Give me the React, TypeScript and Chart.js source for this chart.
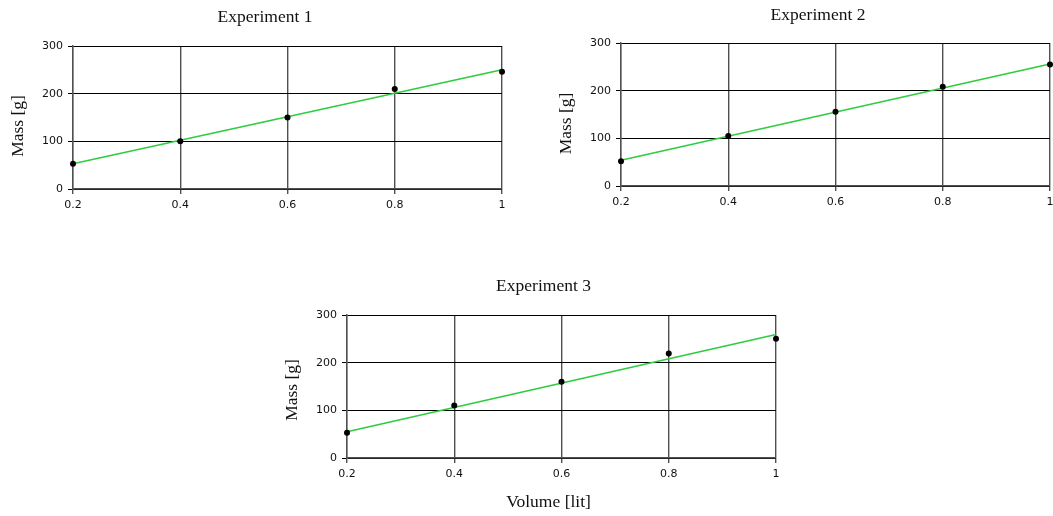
import React, { useEffect, useRef } from "react";
import { Chart, registerables } from "chart.js";

Chart.register(...registerables);

// ---- data ----
const volumes = [0.2, 0.4, 0.6, 0.8, 1.0];
const mass1 = [53, 100, 150, 210, 246];
const mass2 = [52, 105, 156, 208, 255];
const mass3 = [53, 110, 160, 219, 250];
const fitVolumes = [0.2, 1.0];
const fit1 = [53, 250];
const fit2 = [54, 256];
const fit3 = [55, 259];
const titles = ["Experiment 1", "Experiment 2", "Experiment 3"];
const yAxisTitle = "Mass [g]";
const xAxisTitle = "Volume [lit]";
const xTicks = [0.2, 0.4, 0.6, 0.8, 1.0];
const xTickLabels = ["0.2", "0.4", "0.6", "0.8", "1"];
const yTicks = [0, 100, 200, 300];

const SERIF = "'Liberation Serif', 'Times New Roman', serif";
const SANS = "'DejaVu Sans', Verdana, sans-serif";

const axisTitlesPlugin = {
  id: "axisTitles",
  afterDraw(chart: any, _args: any, opts: any) {
    const ctx = chart.ctx;
    for (const t of opts.items || []) {
      ctx.save();
      ctx.translate(t.x, t.y);
      if (t.rotate) ctx.rotate(-Math.PI / 2);
      ctx.font = `17.5px ${SERIF}`;
      ctx.fillStyle = "#111";
      ctx.textAlign = "center";
      ctx.textBaseline = "middle";
      ctx.fillText(t.text, 0, 0);
      ctx.restore();
    }
  },
};

type Spec = {
  title: string;
  mass: number[];
  fit: number[];
  left: number;
  top: number;
  width: number;
  height: number;
  padL: number;
  padR: number;
  padB: number;
  titleTop: number;
  titleBottom: number;
  yScaleWidth: number;
  labels: { text: string; x: number; y: number; rotate?: boolean }[];
};

function makeConfig(s: Spec): any {
  return {
    type: "scatter",
    data: {
      datasets: [
        {
          label: "data",
          data: volumes.map((v, i) => ({ x: v, y: s.mass[i] })),
          showLine: false,
          pointRadius: 3,
          pointHoverRadius: 3,
          pointBackgroundColor: "#000",
          pointBorderColor: "#000",
          pointBorderWidth: 0,
          clip: false,
          order: 0,
        },
        {
          label: "fit",
          data: fitVolumes.map((v, i) => ({ x: v, y: s.fit[i] })),
          showLine: true,
          borderColor: "#2ecc40",
          borderWidth: 1.6,
          pointRadius: 0,
          fill: false,
          clip: false,
          order: 1,
        },
      ],
    },
    options: {
      responsive: false,
      animation: false,
      events: [],
      layout: { padding: { left: s.padL, right: s.padR, top: 0, bottom: s.padB } },
      plugins: {
        legend: { display: false },
        tooltip: { enabled: false },
        title: {
          display: true,
          text: s.title,
          color: "#111",
          font: { family: SERIF, size: 17.5, weight: "normal", lineHeight: 1.2 },
          padding: { top: s.titleTop, bottom: s.titleBottom },
        },
        axisTitles: { items: s.labels },
      },
      scales: {
        x: {
          type: "linear",
          min: 0.2,
          max: 1.0,
          afterFit: (scale: any) => {
            scale.height = 26;
            scale.paddingRight = 0;
          },
          afterBuildTicks: (scale: any) => {
            scale.ticks = xTicks.map((v) => ({ value: v }));
          },
          ticks: {
            color: "#111",
            font: { family: SANS, size: 11 },
            padding: 5,
            maxRotation: 0,
            callback: (v: number) => {
              const i = xTicks.findIndex((t) => Math.abs(t - v) < 1e-6);
              return i >= 0 ? xTickLabels[i] : "";
            },
          },
          grid: { color: "#505050", lineWidth: 1.4, tickLength: 5, drawTicks: true },
          border: { color: "#505050", width: 1.4 },
        },
        y: {
          type: "linear",
          min: 0,
          max: 300,
          afterFit: (scale: any) => {
            scale.width = s.yScaleWidth;
          },
          afterBuildTicks: (scale: any) => {
            scale.ticks = yTicks.map((v) => ({ value: v }));
          },
          ticks: {
            color: "#111",
            font: { family: SANS, size: 11 },
            padding: 5,
          },
          grid: { color: "#000", lineWidth: 1, tickLength: 5, drawTicks: true },
          border: { color: "#505050", width: 1.4 },
        },
      },
    },
    plugins: [axisTitlesPlugin],
  };
}

const specs: Spec[] = [
  {
    title: titles[0],
    mass: mass1,
    fit: fit1,
    left: 0,
    top: 0,
    width: 530,
    height: 215,
    padL: 28,
    padR: 28,
    padB: 0,
    titleTop: 7,
    titleBottom: 18,
    yScaleWidth: 45,
    labels: [{ text: yAxisTitle, x: 18, y: 126, rotate: true }],
  },
  {
    title: titles[1],
    mass: mass2,
    fit: fit2,
    left: 540,
    top: 0,
    width: 513,
    height: 212,
    padL: 46,
    padR: 3,
    padB: 0,
    titleTop: 5,
    titleBottom: 17,
    yScaleWidth: 35,
    labels: [{ text: yAxisTitle, x: 26, y: 123.5, rotate: true }],
  },
  {
    title: titles[2],
    mass: mass3,
    fit: fit3,
    left: 270,
    top: 270,
    width: 520,
    height: 246,
    padL: 41,
    padR: 14,
    padB: 32,
    titleTop: 6,
    titleBottom: 18,
    yScaleWidth: 36,
    labels: [
      { text: yAxisTitle, x: 22.5, y: 120, rotate: true },
      { text: xAxisTitle, x: 278.5, y: 232 },
    ],
  },
];

function ChartBox({ spec }: { spec: Spec }) {
  const ref = useRef<HTMLCanvasElement | null>(null);
  useEffect(() => {
    if (!ref.current) return;
    const chart = new Chart(ref.current, makeConfig(spec));
    return () => chart.destroy();
  }, [spec]);
  return (
    <canvas
      ref={ref}
      width={spec.width}
      height={spec.height}
      style={{
        position: "absolute",
        left: spec.left,
        top: spec.top,
        width: spec.width,
        height: spec.height,
      }}
    />
  );
}

export default function App() {
  return (
    <div
      style={{
        position: "absolute",
        left: 0,
        top: 0,
        width: 1053,
        height: 516,
        background: "#fff",
        overflow: "hidden",
      }}
    >
      {specs.map((s, i) => (
        <ChartBox key={i} spec={s} />
      ))}
    </div>
  );
}
